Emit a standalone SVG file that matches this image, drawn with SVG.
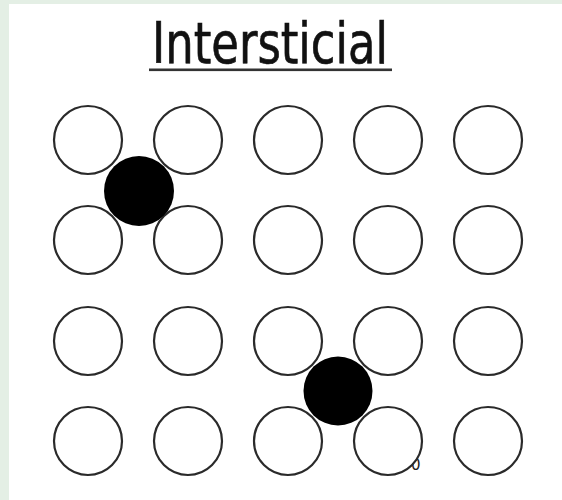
<svg xmlns="http://www.w3.org/2000/svg" width="562" height="500" viewBox="0 0 562 500">
  <style>
    .atom { fill: #ffffff; stroke: #2a2a2a; stroke-width: 2.2; }
    .inter { fill: #000000; stroke: none; }
    .title { font-family: "DejaVu Sans", "Liberation Sans", sans-serif; font-size: 57px; fill: #111111; stroke: #111111; stroke-width: 0.7; }
    .small { font-family: "DejaVu Sans", "Liberation Sans", sans-serif; font-size: 15px; fill: #222222; }
  </style>
  <rect x="0" y="0" width="562" height="500" fill="#e4efe5"/>
  <rect x="9" y="4" width="553" height="496" fill="#ffffff"/>
  <g id="title">
    <text class="title" x="152" y="63" textLength="236" lengthAdjust="spacingAndGlyphs">Intersticial</text>
    <rect x="149" y="68.5" width="243" height="2.6" fill="#333333"/>
  </g>
  <g id="label-0">
    <text class="small" x="411" y="470">0</text>
  </g>
  <g id="lattice">
    <g id="r1">
      <circle class="atom" cx="88" cy="140" r="34"/>
      <circle class="atom" cx="188" cy="140" r="34"/>
      <circle class="atom" cx="288" cy="140" r="34"/>
      <circle class="atom" cx="388" cy="140" r="34"/>
      <circle class="atom" cx="488" cy="140" r="34"/>
    </g>
    <g id="r2">
      <circle class="atom" cx="88" cy="240" r="34"/>
      <circle class="atom" cx="188" cy="240" r="34"/>
      <circle class="atom" cx="288" cy="240" r="34"/>
      <circle class="atom" cx="388" cy="240" r="34"/>
      <circle class="atom" cx="488" cy="240" r="34"/>
    </g>
    <g id="r3">
      <circle class="atom" cx="88" cy="341" r="34"/>
      <circle class="atom" cx="188" cy="341" r="34"/>
      <circle class="atom" cx="288" cy="341" r="34"/>
      <circle class="atom" cx="388" cy="341" r="34"/>
      <circle class="atom" cx="488" cy="341" r="34"/>
    </g>
    <g id="r4">
      <circle class="atom" cx="88" cy="441" r="34"/>
      <circle class="atom" cx="188" cy="441" r="34"/>
      <circle class="atom" cx="288" cy="441" r="34"/>
      <circle class="atom" cx="388" cy="441" r="34"/>
      <circle class="atom" cx="488" cy="441" r="34"/>
    </g>
  </g>
  <g id="interstitial-1">
    <circle class="inter" cx="139" cy="191" r="35"/>
  </g>
  <g id="interstitial-2">
    <circle class="inter" cx="338" cy="391" r="34.5"/>
  </g>
  <g id="connectors"/>
</svg>
